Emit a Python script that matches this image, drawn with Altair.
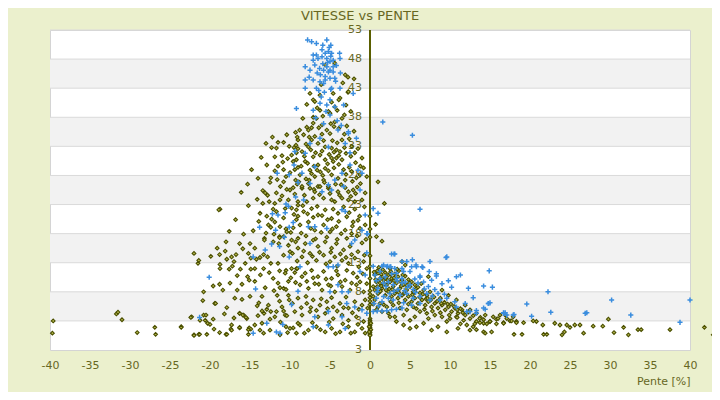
import altair as alt
import pandas as pd

TITLE = "VITESSE vs PENTE"
X_TITLE = "Pente [%]"
X_TICKS = list(range(-40, 41, 5))
Y_GRID = [53, 48, 43, 38, 33, 28, 23, 18, 13, 8, 3]
Y_LABEL_VALUES = [53, 48, 43, 38, 33, 28, 23, 18, 13, 8, 3, -2]
Y_LABEL_TEXT = ["53", "48", "43", "38", "33", "28", "23", "18", "13", "8", "3", "3"]
BAND_LO = [43, 33, 23, 13, 3]
BAND_HI = [48, 38, 28, 18, 8]

# series 1 (olive diamonds): (pente, vitesse)
OLIVE = [
    (-3.1,45.3),(-2.75,44.9),(-2.0,44.6),(-3.4,43.9),(-2.75,42.3),(-3.75,41.3),(-7.1,41.0),(-6.25,41.8),
    (-5.0,38.7),(-4.1,39.2),(-7.9,36.3),(-7.1,38.0),(-5.6,47.0),(-4.4,47.3),
    (-7.5,42.1),(-4.6,42.1),(-2.7,42.4),(-6.9,40.7),(-6.25,39.2),(-5.2,39.0),(-4.4,39.8),(-3.5,37.8),
    (-4.4,37.2),(-6.7,37.8),(-7.1,37.0),(-6.0,36.7),(-5.4,35.8),(-7.7,35.8),(-8.3,35.0),(-9.0,34.1),
    (-6.9,34.7),(-5.0,35.2),(-3.5,34.1),(-7.7,32.9),(-6.5,33.5),(-5.6,32.9),(-4.8,32.7),(-4.2,32.4),
    (-3.75,32.1),(-8.5,32.1),(-9.2,30.7),(-8.1,30.4),(-7.1,31.2),(-6.25,31.5),(-5.6,30.7),(-4.8,31.0),
    (-4.2,31.0),(-3.5,30.7),(-6.5,29.8),(-5.6,29.2),(-7.5,28.9),(-8.75,28.1),(-6.9,27.8),(-5.8,27.2),
    (-4.8,28.1),(-4.0,27.5),(-3.1,27.2),(-1.0,31.0),(-1.25,28.1),(-0.4,27.8),(-7.7,26.6),(-6.5,26.1),
    (-5.2,25.8),(-8.5,25.8),
    (-2.3,33.0),(-1.8,30.2),(-2.6,29.4),(-3.0,31.8),(-2.0,35.6),(-1.5,32.6),(-2.9,36.5),(-3.9,36.1),
    (-4.7,34.0),(-6.0,35.1),(-7.3,34.1),(-8.0,33.4),(-5.3,30.0),(-7.0,29.6),(-4.5,29.3),(-3.3,29.0),
    (-6.2,28.6),(-8.0,27.4),(-3.6,26.4),(-2.2,27.0),(-1.6,26.0),
    (-7.9,40.2),(-6.6,39.6),(-5.9,38.2),(-4.8,40.6),(-3.9,41.0),(-3.0,40.1),(-2.4,39.0),(-6.1,43.6),
    (-3.2,38.4),(-4.5,36.4),(-8.4,37.8),(-7.3,36.2),
    (-8.8,35.8),(-6.4,36.2),(-4.9,36.9),(-3.2,35.1),(-7.6,34.6),(-5.8,34.0),(-4.1,33.6),(-2.6,34.3),
    (-9.0,32.6),(-8.2,31.3),(-7.4,32.4),(-6.8,31.9),(-6.0,32.2),(-5.1,31.6),(-4.5,32.0),(-3.9,31.4),
    (-3.2,32.8),(-2.4,31.3),(-1.9,31.9),(-1.2,29.6),
    (-9.4,29.0),(-8.6,29.6),(-7.8,30.1),(-7.3,28.3),(-6.6,28.9),(-5.9,28.0),(-5.2,28.8),(-4.6,30.4),
    (-3.9,29.9),(-3.0,28.2),(-2.3,28.7),(-1.7,27.6),(-0.8,29.3),
    (-9.6,25.9),(-8.9,26.9),(-8.2,24.6),(-7.6,27.2),(-7.0,25.6),(-6.3,24.7),(-5.7,26.8),(-5.0,24.9),
    (-4.3,26.5),(-3.8,24.6),(-3.1,25.9),(-2.4,24.4),(-1.8,24.9),(-1.2,26.6),(-0.6,25.0),
    (-9.8,22.4),(-9.0,21.0),(-8.4,22.8),(-7.8,21.4),(-7.1,20.8),(-6.6,22.7),(-6.0,21.1),(-5.3,20.4),
    (-4.6,22.2),(-3.9,20.1),(-3.3,22.6),(-2.6,21.6),(-1.9,22.2),(-1.3,21.0),(-0.7,22.6),
    (-9.9,18.2),(-9.3,16.6),(-8.6,18.1),(-8.0,17.6),(-7.4,18.9),(-6.8,17.1),(-6.1,18.2),(-5.4,17.4),
    (-4.7,18.8),(-4.1,17.0),(-3.6,18.0),(-2.9,17.2),(-2.2,19.3),(-1.6,17.6),(-1.0,16.4),(-0.5,17.0),
    (-9.7,14.6),(-9.1,13.3),(-8.3,15.0),(-7.8,13.0),(-7.2,14.1),(-6.3,14.8),(-5.5,12.8),(-4.9,14.8),
    (-4.1,12.4),(-3.7,14.5),(-3.0,13.9),(-2.3,14.4),(-1.4,12.3),(-0.7,14.3),(-0.4,12.0),
    (-9.9,10.4),(-9.3,9.6),(-8.5,10.6),(-7.9,9.8),(-7.1,10.4),(-6.4,9.3),(-5.5,10.2),(-4.9,9.0),
    (-4.2,11.6),(-3.7,9.7),(-2.9,11.7),(-2.3,9.5),(-1.6,10.5),(-0.9,11.1),(-0.4,9.4),
    (-9.7,6.0),(-9.4,4.6),(-8.6,5.3),(-8.0,7.2),(-7.4,5.3),(-6.7,4.8),(-6.1,6.8),(-5.3,5.1),
    (-4.8,7.0),(-4.1,4.7),(-3.3,5.3),(-3.0,7.1),(-2.2,4.4),(-1.4,5.0),(-0.6,6.6),(-0.3,5.2),
    (-9.6,1.8),(-8.2,0.9),(-7.2,2.7),(-6.2,1.5),(-5.1,2.8),(-4.3,0.8),(-3.4,2.5),(-2.4,0.9),
    (-1.5,2.4),(-0.6,0.9),
    (-11.5,33.7),(-10.8,33.7),(-11.7,32.7),(-9.25,33.2),(-9.8,31.5),(-9.6,30.4),(-11.5,29.6),(-10.8,29.0),
    (-11.9,28.8),(-14.0,27.5),(-10.8,26.9),(-11.2,26.1),(-10.4,25.6),(-10.0,25.5),(-11.7,25.0),(-13.4,25.4),
    (-13.1,25.0),(-16.1,25.1),(-11.0,24.5),(-11.25,23.8),(-12.6,23.5),(-13.4,23.2),(-15.2,22.8),(-18.75,22.2),
    (-18.9,22.1),(-12.1,22.2),(-11.7,21.8),(-13.75,21.5),(-12.9,21.0),(-12.3,20.5),(-11.9,20.0),(-12.7,19.5),
    (-12.4,19.1),(-11.25,19.2),(-10.5,18.8),(-10.4,18.3),(-11.3,17.5),(-10.8,17.5),(-13.2,17.2),
    (-9.3,35.4),(-9.1,34.6),(-9.5,32.8),(-9.2,31.9),(-9.0,29.4),(-9.3,27.2),(-9.1,26.5),(-9.4,24.8),
    (-9.0,22.9),(-9.5,21.3),(-9.2,20.4),(-9.6,19.0),(-9.8,16.9),(-10.2,23.8),(-10.0,28.5),(-10.3,30.9),
    (-10.1,33.0),(-12.5,26.8),(-12.9,29.8),(-13.6,31.1),(-11.0,31.4),(-12.2,34.6),
    (-14.6,18.5),(-13.9,20.1),(-13.0,18.1),(-12.0,17.9),(-11.4,16.3),(-14.1,23.9),(-12.8,24.6),(-11.9,23.2),
    (-10.8,20.7),(-10.6,22.3),(-12.4,27.6),(-11.6,27.3),(-10.5,27.8),(-10.9,30.3),(-11.9,31.2),(-12.3,32.8),
    (-10.4,35.0),(-13.0,33.5),(-14.8,29.0),(-15.3,26.5),(-16.8,20.4),(-15.8,17.9),(-17.6,18.4),(-14.4,9.8),
    (-13.7,10.9),(-12.6,11.3),(-12.0,8.2),(-11.3,6.4),(-10.2,9.8),(-10.1,6.6),(-13.9,6.1),(-12.5,3.3),
    (-11.2,2.8),(-10.3,1.0),(-14.0,3.9),(-16.6,8.3),(-17.9,5.3),(-19.6,9.0),(-18.2,4.2),(-17.0,3.5),
    (-19.5,1.6),(-20.9,6.5),(-21.4,13.4),(-19.9,14.1),(-18.0,16.6),(-16.3,16.3),(-15.6,12.9),(-16.6,10.8),
    (-17.2,12.4),(-15.9,15.4),
    (-8.5,26.1),(-7.5,25.8),(-6.9,25.2),(-6.25,26.1),(-5.2,26.1),(-4.0,25.2),(-2.7,25.2),(-2.1,25.5),
    (-9.0,23.5),(-7.9,23.5),(-7.1,24.1),(-5.8,24.1),(-4.8,23.8),(-4.4,23.5),(-3.5,24.1),(-2.7,23.8),
    (-1.9,23.5),(-1.0,23.8),
    (-9.2,22.1),(-8.3,21.8),(-7.3,22.3),(-6.5,21.2),(-5.6,22.1),(-4.8,20.6),(-4.0,21.5),(-2.9,20.9),
    (-2.1,20.0),(-1.5,20.3),(-8.75,19.5),(-7.7,20.0),(-6.9,18.6),(-5.8,19.5),(-5.0,18.3),(-4.2,19.2),
    (-3.1,18.6),(-2.3,18.0),(-1.25,18.9),(-0.6,19.5),
    (-9.0,17.2),(-8.1,16.3),(-7.1,16.9),(-6.5,15.8),(-5.6,16.6),(-4.8,15.5),(-4.2,16.3),(-3.3,15.2),
    (-2.5,15.8),(-1.5,14.9),(-8.5,14.0),(-7.5,14.6),(-6.7,13.4),(-5.8,14.3),(-5.0,13.2),(-4.4,14.0),
    (-3.5,13.4),(-2.7,12.9),(-1.9,13.8),(-0.8,13.2),
    (-9.2,12.0),(-8.1,11.2),(-7.3,11.7),(-6.5,10.6),(-5.8,11.5),(-4.8,10.3),(-4.0,10.9),(-3.1,10.0),
    (-2.1,11.2),(-1.25,9.7),(-8.75,9.2),(-7.7,8.6),(-6.9,9.4),(-6.0,8.3),(-5.2,9.2),(-4.4,8.0),
    (-3.5,8.9),(-2.5,8.3),(-1.7,9.2),(-0.8,8.0),
    (-9.0,6.9),(-7.9,6.0),(-7.1,6.6),(-6.25,5.7),(-5.4,6.3),(-4.6,5.4),(-3.75,6.0),(-2.7,5.2),
    (-1.9,6.3),(-1.0,5.7),(-8.5,4.0),(-7.5,4.6),(-6.5,3.7),(-5.6,4.3),(-4.6,3.4),(-3.5,4.0),
    (-2.7,3.1),(-1.7,3.7),(-0.8,2.9),(-8.75,2.3),(-7.7,1.4),(-6.7,2.0),(-5.6,1.1),(-4.8,1.7),
    (-3.75,1.1),(-2.7,2.0),(-1.9,1.1),(-1.0,1.7),
    (-22.0,14.6),(-21.5,12.9),(-19.1,15.5),(-18.8,14.4),(-18.1,15.0),(-17.3,14.0),(-16.75,14.4),(-17.9,13.6),
    (-18.75,12.7),(-18.75,12.0),(-17.6,11.9),(-17.0,13.2),(-16.2,11.9),(-15.0,16.3),(-15.2,14.6),(-14.4,15.5),
    (-14.9,13.8),(-14.2,13.6),(-13.75,13.9),(-13.3,14.4),(-12.8,14.0),(-12.4,12.9),(-13.2,16.9),(-12.1,16.6),
    (-11.3,17.3),(-10.2,16.0),(-9.0,15.5),(-10.0,14.9),(-10.8,14.3),(-11.5,12.9),(-9.8,12.0),(-10.5,11.7),
    (-10.6,11.2),(-11.3,11.6),(-9.4,11.3),(-9.1,12.0),(-13.3,12.0),(-14.4,12.0),(-14.9,11.9),(-15.3,10.6),
    (-15.1,10.0),(-16.0,9.3),(-17.5,9.5),(-18.8,9.3),(-18.4,8.3),(-20.8,8.0),(-13.1,8.7),(-12.1,10.3),
    (-11.5,9.5),(-11.25,8.7),(-10.8,8.6),(-10.5,8.4),(-11.6,7.4),(-10.2,7.4),(-13.5,7.2),(-15.0,7.2),
    (-16.9,6.9),(-16.0,6.7),(-19.4,6.0),(-14.1,5.6),(-13.5,4.7),(-12.9,5.0),(-13.25,4.3),(-12.4,4.6),
    (-11.9,3.7),(-11.7,4.6),(-11.0,5.4),(-10.6,4.0),(-10.8,4.7),(-10.4,3.9),(-16.3,4.3),(-15.8,4.0),
    (-15.4,3.4),(-14.4,2.3),(-13.5,2.6),(-15.1,1.8),(-14.9,1.6),(-13.75,1.4),(-12.5,1.4),(-13.3,0.9),
    (-11.25,0.6),(-10.5,2.0),(-10.0,1.7),(-9.0,2.6),(-9.2,0.9),(-23.6,2.0),(-22.0,0.6),(-21.4,0.7),
    (-20.4,0.7),(-18.8,1.0),(-18.0,0.7),(-17.3,2.3),(-17.4,1.6),(-16.3,1.8),(-20.0,2.4),(-20.6,3.1),
    (-21.25,3.1),(-22.3,3.7),(-12.7,5.7),
    (-39.6,3.0),(-39.7,0.9),(-31.7,4.2),(-31.5,4.5),(-31.0,3.2),(-29.1,1.0),(-26.9,1.9),(-26.8,0.7),
    (-23.6,1.9),(-22.4,3.6),(-22.0,0.5),(-21.3,0.7),(-20.8,4.0),(-20.5,4.0),(-20.3,2.6),(-19.6,3.3),
    (-19.3,6.0),(-17.9,0.7),(-17.3,1.4),(-16.3,4.3),(-15.9,4.0),(-15.5,3.6),(-16.3,1.9),(-15.2,1.5),
    (-15.2,0.7),
    (0.0,21.0),(0.0,18.8),(0.0,17.4),(0.0,14.2),(0.0,12.4),(0.0,10.3),(0.0,8.2),(0.0,7.6),(0.0,7.0),
    (0.0,6.4),(0.0,5.8),(0.0,3.4),(0.0,3.1),(0.0,2.8),(0.0,2.5),(0.0,2.2),(0.0,1.9),(0.0,1.6),(0.0,1.3),
    (0.0,1.0),(0.0,0.7),(0.0,0.5),(0.1,2.6),(0.1,1.5),(-0.1,2.0),(-0.1,1.1),
    (1.0,26.9),(1.8,23.2),(0.7,19.6),(1.5,16.7),(0.8,17.5),
    (0.6,10.9),(1.0,11.2),(1.5,10.6),(1.9,11.3),(2.3,10.9),(2.7,10.3),(3.1,11.1),(3.5,10.6),(4.0,10.0),
    (4.4,10.7),(4.8,10.1),(5.2,9.7),(0.8,9.7),(1.25,9.5),(1.7,10.0),(2.1,9.2),(2.5,9.7),(2.9,8.9),
    (3.3,9.5),(3.75,8.6),(4.2,9.2),(4.6,8.3),(5.0,8.9),(5.4,8.0),(5.8,8.6),(6.25,7.8),(6.7,8.3),
    (7.1,7.4),(7.5,8.0),(7.9,7.2),(0.6,8.3),(1.0,7.7),(1.5,8.6),(1.9,7.4),(2.3,8.0),(2.7,7.2),
    (3.1,7.7),(3.5,6.9),(4.0,7.4),(4.4,6.6),(4.8,7.2),(5.2,6.3),(5.6,6.9),(6.0,6.0),(6.5,6.6),
    (6.9,5.7),(7.3,6.3),(7.7,5.4),(8.1,6.0),(8.5,5.2),(9.0,5.7),(9.4,4.9),(9.8,5.4),(10.2,4.6),
    (10.6,5.2),(11.0,4.3),(11.5,4.9),(11.9,4.0),(1.25,6.0),(2.1,5.4),(2.9,5.7),(3.75,5.2),(4.6,4.9),
    (5.4,5.4),(6.25,4.6),(7.1,4.3),(8.1,4.0),(9.0,3.7),(10.0,3.4),(10.8,3.7),(11.7,3.1),(12.5,3.4),
    (13.3,2.9),(14.2,3.2),(15.0,2.9),(15.8,3.3),(16.7,2.7),(17.5,3.0),(18.3,2.9),(2.5,3.7),(3.3,2.9),
    (4.2,2.3),(5.0,3.1),(5.8,2.0),(6.7,2.6),(7.7,1.4),(8.5,2.0),(9.6,1.1),(11.0,1.7),(12.5,1.4),
    (14.2,1.1),(5.0,1.7),(7.3,3.4),(9.6,2.9),(12.1,2.3),(0.4,7.2),(0.4,8.9),(0.6,6.6),(1.0,5.4),
    (1.5,4.6),(2.3,4.3),(3.1,3.7),(4.2,4.0),(5.6,3.7),(4.4,12.6),(4.0,13.2),(2.5,12.0),(7.3,10.6),
    (9.0,8.3),(9.8,7.4),(10.8,6.6),(11.9,5.7),(12.5,4.9),(13.3,4.3),(14.4,4.0),(15.4,3.7),(16.25,4.0),
    (17.1,3.4),(17.9,3.7),
    (0.9,11.6),(1.6,11.8),(2.6,11.5),(3.6,11.6),(1.2,10.2),(2.0,10.4),(3.0,9.9),(3.9,9.0),(4.9,9.5),
    (5.6,9.2),(6.0,8.8),(6.4,9.4),(1.4,9.0),(2.4,8.5),(3.4,8.2),(4.3,7.8),(5.3,7.5),(6.2,7.1),
    (7.0,6.8),(7.6,6.6),(8.4,6.4),(8.8,6.9),(9.3,6.2),(10.1,5.9),(10.5,5.5),(11.3,5.1),(12.3,4.5),
    (12.9,3.9),(13.8,3.6),
    (0.5,11.4),(0.7,10.1),(1.1,12.2),(1.4,11.0),(1.8,9.3),(2.2,10.0),(2.6,11.0),(3.0,10.4),(3.4,11.9),
    (3.8,9.8),(4.1,10.9),(4.6,9.1),(0.9,8.9),(1.3,8.1),(2.0,8.3),(2.8,8.4),(3.6,7.9),(4.5,8.5),
    (5.6,8.0),(6.6,7.6),(7.2,6.9),(8.0,7.1),(8.9,6.0),(9.7,5.9),(10.9,4.9),(11.6,4.4),(0.4,5.9),
    (0.8,4.9),(1.7,5.8),(2.6,6.3),(3.6,6.1),(4.8,5.9),(5.8,5.1),(6.8,5.0),(7.8,4.7),(8.8,4.4),
    (9.9,4.0),(10.9,3.6),(11.3,2.5),(12.9,2.0),(13.7,3.4),
    (29.8,3.3),(27.9,2.1),(29.1,2.1),(30.5,1.0),(31.7,1.9),(32.3,0.6),(33.5,1.5),(33.9,1.5),(37.5,1.5),
    (41.8,1.9),(42.9,0.6),(26.7,0.9),(24.3,1.1),(24.0,0.6),(25.0,1.9),(23.1,2.6),(23.75,2.3),(24.6,2.3),
    (25.6,2.3),(26.25,2.3),(21.7,0.7),(22.1,0.7),(18.0,0.7),(19.0,0.7),(20.8,2.9),(21.6,2.3),(20.4,3.0),
    (19.2,2.7),(18.3,2.7),(17.7,3.0),(16.7,2.6),(15.8,2.5),(15.0,2.9),(14.2,2.6),(13.1,2.5),(13.75,2.7),
    (14.6,2.5),(13.3,1.5),(14.4,0.9),(15.2,1.1),(16.0,3.4),(16.9,4.0),
]

# series 2 (blue crosses): (pente, vitesse)
BLUE = [
    (-7.8,51.3),(-7.3,51.0),(-6.7,50.7),(-5.9,50.4),(-5.4,51.3),(-4.9,50.4),(-7.1,48.7),(-6.7,48.7),
    (-6.0,48.4),(-5.6,49.0),(-5.2,49.3),(-4.8,49.0),(-3.8,49.0),(-7.1,47.8),(-6.5,48.1),(-5.4,48.1),
    (-5.0,47.6),(-4.6,47.8),(-3.75,48.1),(-8.1,46.7),(-7.5,46.1),(-6.9,47.0),(-6.3,46.4),(-5.8,46.1),
    (-5.4,46.7),(-5.0,46.1),(-4.6,46.7),(-5.2,45.8),(-4.6,45.8),(-3.7,45.6),(-8.1,44.4),(-7.1,44.4),
    (-6.25,44.1),(-5.6,44.4),(-5.0,44.7),(-4.4,44.7),(-5.8,43.8),(-8.1,43.0),(-6.7,43.0),(-4.8,43.0),
    (-3.75,43.0),(-2.1,42.1),(-9.2,39.5),(-6.25,40.4),(-5.0,41.0),(-5.4,40.1),(-3.3,40.1),(-4.4,39.8),
    (-7.1,39.2),(-5.0,38.4),
    (-5.9,47.2),(-5.3,47.4),(-4.9,48.5),(-6.2,45.3),(-5.6,45.0),(-4.2,46.9),(-6.0,49.6),(-5.1,50.0),
    (-4.3,44.2),(-6.6,45.6),(-5.7,42.3),(-6.4,42.6),(-4.9,42.8),(-7.6,44.9),(-6.1,41.5),(-5.5,39.0),
    (-4.1,37.4),(-6.8,37.9),(-3.6,36.6),(-2.7,35.5),(-5.8,36.9),
    (-3.1,33.5),(-1.7,34.4),(-2.7,35.2),(-4.0,35.8),(-6.25,34.4),(-7.5,33.5),(-5.2,32.9),(-8.1,31.8),
    (-2.5,29.8),(-1.5,28.9),(-1.0,28.4),(-3.5,28.4),(-6.9,29.5),(-8.5,28.4),(-4.4,27.2),(-5.2,26.4),
    (-7.5,26.6),(-3.3,26.1),
    (5.3,34.9),(-2.5,31.9),(-9.4,32.1),(-1.25,25.5),(0.4,22.3),(1.0,21.5),(6.25,22.2),(-0.3,18.0),
    (-0.4,14.7),(2.7,14.5),(3.1,14.5),(4.6,13.2),(5.3,13.5),(7.5,13.2),(9.5,13.9),(4.0,13.2),(0.4,12.4),
    (1.5,12.4),(2.1,12.3),(2.5,12.3),(3.1,12.0),(5.2,12.3),(5.8,12.3),(6.5,12.3),(1.6,37.2),
    (-9.5,29.8),(-11.6,28.4),(-10.1,28.1),(-9.0,26.8),(-9.3,24.3),(-10.5,23.1),(-10.2,22.7),(-12.2,21.4),
    (-11.5,21.2),(-10.6,21.6),(-13.8,19.1),(-11.8,18.6),(-10.1,19.1),(-9.6,19.9),(-10.7,17.4),
    (-20.1,10.5),(-14.3,8.5),(-21.3,3.6),(-9.8,5.8),(-12.9,2.6),(-14.6,0.9),(-10.9,2.4),(-11.7,1.1),
    (-11.25,0.9),(-12.3,16.2),(-11.3,15.8),(-13.1,15.2),(-14.6,14.0),(-10.1,14.0),(-9.0,8.1),
    (-8.3,23.8),(-6.0,25.2),(-4.8,25.5),(-3.5,22.1),(-3.1,21.8),(-0.6,21.2),(-1.0,18.6),(-0.4,18.0),
    (-7.7,19.2),(-6.9,19.2),(-7.5,16.3),(-5.4,18.9),(-1.9,16.9),(-2.3,16.3),(-5.2,12.3),(-4.6,12.3),
    (-4.0,12.6),(-1.25,11.5),(-0.6,10.9),(-8.75,12.3),(-4.0,9.2),(-5.0,8.0),(-3.5,8.0),(-2.7,8.0),
    (-2.9,6.0),(-1.9,5.4),(-1.0,4.9),(-0.4,4.3),(-5.2,4.6),(-3.5,3.7),(-7.1,2.0),(-5.2,2.3),(-3.1,1.7),
    (-6.9,3.7),
    (3.0,14.5),(9.6,14.0),(1.7,12.6),(2.2,12.4),(2.6,12.3),(4.0,12.0),(5.75,12.6),(6.6,12.2),(4.2,11.5),
    (3.3,11.2),(3.3,10.3),(6.25,10.7),(6.25,10.5),(7.4,11.5),(8.3,11.1),(8.3,10.7),(9.8,9.9),(10.8,10.6),
    (11.3,10.9),(14.9,11.6),(12.3,8.6),(14.2,9.0),(15.3,8.8),(12.9,7.0),(14.8,6.0),(15.0,6.1),(11.9,6.0),
    (18.0,4.1),(16.7,4.4),(0.6,10.9),(1.25,10.3),(0.8,9.9),(1.9,10.6),(1.0,8.6),(1.7,9.5),(2.3,9.7),
    (2.9,9.2),(4.0,9.5),(4.4,9.7),(5.0,9.2),(5.4,8.4),(6.0,9.5),(6.7,9.7),(7.3,8.9),(8.1,8.4),(8.5,7.7),
    (7.1,7.7),(6.25,7.2),(5.4,6.9),(4.6,7.7),(3.75,7.4),(2.5,7.7),(1.7,7.2),(0.8,6.9),(0.5,6.0),(1.5,6.3),
    (2.9,6.6),(4.2,6.1),(5.2,5.7),(6.25,6.0),(7.5,6.6),(8.75,6.6),(9.6,6.9),(10.6,6.3),(10.8,5.4),
    (12.1,4.6),(13.3,4.8),(14.4,5.0),(0.4,4.6),(0.9,4.7),(1.5,4.7),(2.1,4.75),(2.7,4.9),(3.3,5.0),
    (4.0,5.2),(9.0,9.4),(10.2,8.8),(7.7,10.0),(4.7,8.8),(3.5,8.4),(4.0,10.3),(2.7,11.1),(1.25,11.5),
    (5.0,11.5),
    (0.9,8.0),(2.0,8.9),(3.0,8.1),(4.3,8.2),(5.7,7.9),(6.8,8.5),(7.8,7.3),(9.3,7.6),(3.4,9.9),
    (5.6,10.2),(2.3,6.9),(1.1,5.6),
    (19.6,5.9),(20.2,3.8),(22.6,4.5),(26.9,4.3),(27.1,4.4),(32.6,4.0),(38.75,2.75),(40.0,6.6),(30.2,6.6),
    (12.5,4.6),(13.3,4.3),(14.2,5.2),(14.8,6.0),(16.7,4.3),(17.1,4.0),(17.9,4.0),(16.9,4.4),(22.25,8.0),
]

BG = "#EBF0CD"
TXT = "#67671F"
AXIS_LINE = "#5A5E00"
GRID = "#DADADA"
BAND = "#F2F2F2"
FONT = "DejaVu Sans"

olive_df = pd.DataFrame(OLIVE, columns=["pente", "vitesse"])
blue_df = pd.DataFrame(BLUE, columns=["pente", "vitesse"])
bands_df = pd.DataFrame({"lo": BAND_LO, "hi": BAND_HI})
grid_df = pd.DataFrame({"v": Y_GRID})
labels_df = pd.DataFrame({"v": Y_LABEL_VALUES, "t": Y_LABEL_TEXT, "x0": [0] * len(Y_LABEL_VALUES)})
axis_df = pd.DataFrame({"x0": [0]})

xscale = alt.Scale(domain=[-40, 40], nice=False, zero=False)
yscale = alt.Scale(domain=[-2, 53], nice=False, zero=False)
xaxis = alt.Axis(
    values=X_TICKS, grid=False, ticks=False, domain=False,
    labelColor=TXT, labelFont=FONT, labelFontSize=11, labelPadding=9,
    labelFlush=False, labelOverlap=False, labelExpr="'' + datum.value",
    title=X_TITLE, titleColor=TXT, titleFont=FONT, titleFontSize=11,
    titleFontWeight="normal", titleAnchor="end", titlePadding=5,
)

bands = alt.Chart(bands_df).mark_rect(color=BAND).encode(
    x=alt.value(0), x2=alt.value("width"),
    y=alt.Y("lo:Q", scale=yscale, axis=None), y2="hi:Q",
)
grid = alt.Chart(grid_df).mark_rule(color=GRID, strokeWidth=1).encode(
    x=alt.value(0), x2=alt.value("width"),
    y=alt.Y("v:Q", scale=yscale, axis=None),
)
yline = alt.Chart(axis_df).mark_rule(color=AXIS_LINE, strokeWidth=2).encode(
    x=alt.X("x0:Q", scale=xscale, axis=xaxis),
    y=alt.value(0), y2=alt.value("height"),
)
ylabels = alt.Chart(labels_df).mark_text(
    align="right", baseline="middle", dx=-8, font=FONT, fontSize=11, color=TXT
).encode(
    x=alt.X("x0:Q", scale=xscale, axis=xaxis),
    y=alt.Y("v:Q", scale=yscale, axis=None),
    text="t:N",
)
olive = alt.Chart(olive_df).mark_point(
    shape="diamond", fill="#B8B84C", stroke="#4A4F00", strokeWidth=1.1,
    size=14, opacity=1, fillOpacity=1,
).encode(
    x=alt.X("pente:Q", scale=xscale, axis=xaxis),
    y=alt.Y("vitesse:Q", scale=yscale, axis=None),
)
blue = alt.Chart(blue_df).mark_point(
    shape="M-1,0L1,0M0,-1L0,1", filled=False, stroke="#3A8DDE",
    strokeWidth=1.5, size=26, opacity=1,
).encode(
    x=alt.X("pente:Q", scale=xscale, axis=xaxis),
    y=alt.Y("vitesse:Q", scale=yscale, axis=None),
)

chart = alt.layer(bands, grid, yline, ylabels, olive, blue).properties(
    width=640, height=320,
    autosize=alt.AutoSizeParams(type="none"),
    padding={"left": 42, "top": 22, "right": 22, "bottom": 42},
    background=BG,
    title=alt.TitleParams(
        TITLE, font=FONT, fontSize=13, fontWeight="normal", color=TXT,
        anchor="middle", dx=-10, offset=1,
    ),
).configure_view(stroke="#D4D4D4", strokeWidth=1, fill="white")

chart.save("out.html", embed_options={"renderer": "svg", "actions": False})
